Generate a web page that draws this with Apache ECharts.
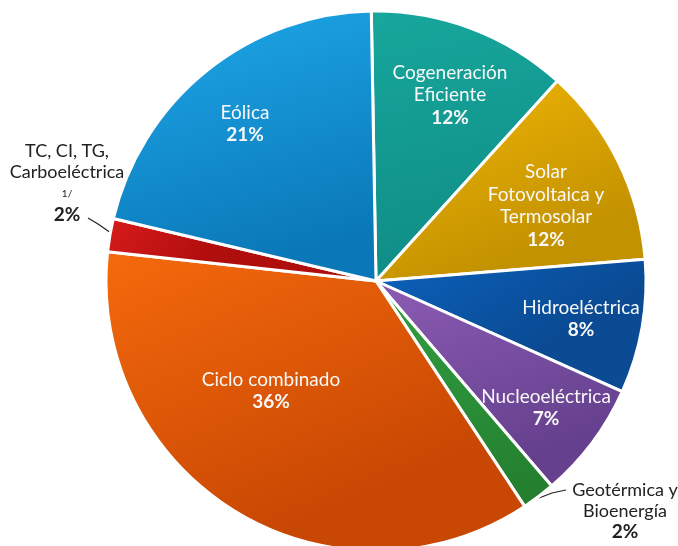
<!DOCTYPE html>
<html>
<head>
<meta charset="utf-8">
<script src="https://cdn.jsdelivr.net/npm/echarts@6/dist/echarts.min.js"></script>
<style>
  html, body { margin: 0; padding: 0; background: #fff; }
  #chart { width: 678px; height: 546px; }
</style>
</head>
<body>
<div id="chart"></div>
<script>
// datos (porcentaje de capacidad por tecnología)
var names = ['Cogeneración\nEficiente', 'Solar\nFotovoltaica y\nTermosolar', 'Hidroeléctrica',
  'Nucleoeléctrica', 'Geotérmica y\nBioenergía', 'Ciclo combinado', 'TC, CI, TG,\nCarboeléctrica', 'Eólica'];
var values = [12, 12, 8, 7, 2, 36, 2, 21];
var notes = ['', '', '', '', '', '', '1/', ''];

// colores (claro -> oscuro)
var colors = [
  ['#17a79c', '#0f8c86'],
  ['#f2b705', '#c39200'],
  ['#0b62bd', '#0a4b94'],
  ['#8c5cb4', '#65408e'],
  ['#33a043', '#24802f'],
  ['#f56a0c', '#c84703'],
  ['#d81c1c', '#b00d0d'],
  ['#1fa9ea', '#0a78b8']
];
// posición de cada etiqueta (centro del bloque de texto)
var labelPos = [[450, 95], [546, 206], [581, 319], [546, 408], [625, 511], [271, 391], [67, 183], [245, 124]];
var outside = [4, 6];

var myChart = echarts.init(document.getElementById('chart'));

var data = [];
for (var i = 0; i < values.length; i++) {
    var isOut = outside.indexOf(i) >= 0;
    var fmt = '{n|' + names[i].split('\n').join('}\n{n|') + '}';
    if (notes[i]) fmt += '\n{s|' + notes[i] + '}';
    fmt += '\n{p|' + values[i] + '%}';
    var txt = isOut ? '#222' : '#f8f8f8';
    data.push({
        name: names[i],
        value: values[i],
        itemStyle: {
            color: new echarts.graphic.LinearGradient(0, 0, 0.3, 1, [
                { offset: 0, color: colors[i][0] },
                { offset: 1, color: colors[i][1] }
            ])
        },
        label: {
            position: isOut ? 'outside' : 'inside',
            formatter: fmt,
            rich: {
                n: { color: txt, fontSize: isOut ? 18 : 19, lineHeight: isOut ? 21 : 22.5, fontFamily: 'Lato' },
                s: { color: '#222', fontSize: 10, lineHeight: 21, fontFamily: 'Lato' },
                p: { color: txt, fontSize: 19, lineHeight: isOut ? 21 : 22.5, fontWeight: 'bold', fontFamily: 'Lato' }
            }
        },
        labelLine: { show: isOut }
    });
}

var option = {
    animation: false,
    series: [{
        type: 'pie',
        center: [376, 281],
        radius: 270,
        startAngle: 91,
        clockwise: true,
        avoidLabelOverlap: false,
        itemStyle: { borderColor: '#fff', borderWidth: 3 },
        label: { show: true, align: 'center' },
        labelLine: { length: 10, length2: 10, lineStyle: { color: '#222', width: 1.2 } },
        labelLayout: function (params) {
            var p = labelPos[params.dataIndex];
            var res = { x: p[0], y: p[1], align: 'center', verticalAlign: 'middle' };
            if (params.dataIndex === 6) res.labelLinePoints = [[111, 233], [98, 224], [88, 218]];
            if (params.dataIndex === 4) res.labelLinePoints = [[539, 498], [552, 493], [566, 490]];
            return res;
        },
        data: data
    }]
};
myChart.setOption(option);
</script>
</body>
</html>
